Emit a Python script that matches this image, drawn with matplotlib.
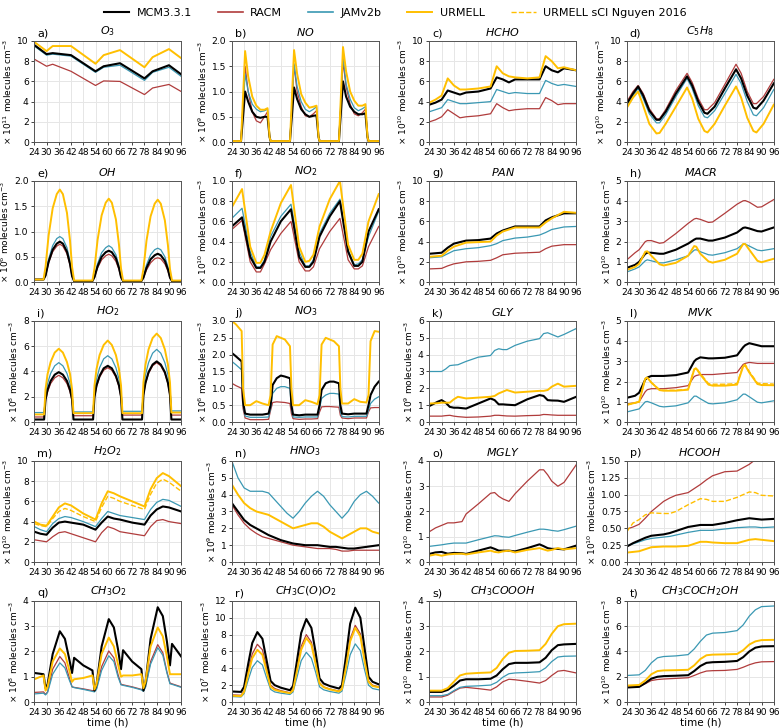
import matplotlib
matplotlib.use("Agg")
import matplotlib.pyplot as plt
from matplotlib.lines import Line2D

# ---------------- data ----------------
# a) O3 (1e11)
t_o3 = [24, 30, 33, 42, 54, 58, 66, 78, 82, 90, 96]
o3_mcm = [9.6, 8.7, 8.8, 8.6, 7.0, 7.5, 7.8, 6.3, 7.0, 7.6, 6.7]
o3_racm = [8.2, 7.5, 7.7, 7.0, 5.6, 6.05, 6.0, 4.7, 5.35, 5.7, 5.0]
o3_jam = [9.5, 8.6, 8.7, 8.5, 6.9, 7.4, 7.6, 6.1, 6.9, 7.4, 6.5]
o3_urm = [9.9, 9.0, 9.5, 9.5, 7.75, 8.6, 9.1, 7.4, 8.4, 9.2, 8.3]

# b) NO (1e9)
t_no = [24, 28.5, 30.5, 32, 34, 36, 38, 40, 41.5, 42.5, 43, 52.5, 54.5, 56, 58, 60, 62, 64, 65.5, 66.5, 67,
        76.5, 78.5, 80, 82, 84, 86, 88, 89.5, 90.5, 91, 96]
no_mcm = [0.02, 0.02, 1.0, 0.8, 0.6, 0.5, 0.48, 0.5, 0.5, 0.1, 0.02, 0.02, 1.08, 0.85, 0.65, 0.55, 0.5, 0.52, 0.53, 0.1, 0.02,
          0.02, 1.2, 0.9, 0.7, 0.6, 0.55, 0.55, 0.57, 0.1, 0.02, 0.02]
no_racm = [0.02, 0.02, 1.5, 1.0, 0.6, 0.42, 0.38, 0.5, 0.6, 0.1, 0.02, 0.02, 1.52, 1.0, 0.7, 0.52, 0.5, 0.56, 0.62, 0.1, 0.02,
           0.02, 1.6, 1.1, 0.75, 0.56, 0.52, 0.58, 0.65, 0.1, 0.02, 0.02]
no_jam = [0.02, 0.02, 1.35, 1.0, 0.75, 0.65, 0.6, 0.62, 0.65, 0.1, 0.02, 0.02, 1.55, 1.1, 0.8, 0.65, 0.6, 0.65, 0.7, 0.1, 0.02,
          0.02, 1.7, 1.15, 0.85, 0.68, 0.62, 0.66, 0.7, 0.1, 0.02, 0.02]
no_urm = [0.02, 0.02, 1.8, 1.3, 0.9, 0.72, 0.64, 0.64, 0.67, 0.1, 0.02, 0.02, 1.82, 1.35, 0.95, 0.78, 0.68, 0.7, 0.72, 0.1, 0.02,
          0.02, 1.88, 1.4, 1.0, 0.82, 0.72, 0.72, 0.75, 0.1, 0.02, 0.02]

# c) HCHO (1e10)
t_hcho = [24, 27, 30, 33, 36, 39, 42, 48, 54, 57, 60, 63, 66, 72, 78, 81, 84, 87, 90, 96]
hcho_mcm = [3.7, 3.9, 4.2, 5.1, 4.9, 4.7, 4.9, 5.0, 5.3, 6.4, 6.2, 5.9, 6.2, 6.2, 6.2, 7.5, 7.1, 6.9, 7.3, 7.1]
hcho_racm = [2.0, 2.2, 2.5, 3.2, 2.8, 2.4, 2.5, 2.6, 2.8, 3.8, 3.4, 3.1, 3.2, 3.3, 3.3, 4.4, 4.1, 3.7, 3.8, 3.8]
hcho_jam = [3.0, 3.2, 3.4, 4.2, 4.0, 3.8, 3.8, 3.9, 4.0, 5.2, 5.0, 4.8, 4.9, 4.8, 4.8, 6.1, 5.8, 5.6, 5.7, 5.5]
hcho_urm = [3.9, 4.2, 4.6, 6.3, 5.6, 5.2, 5.2, 5.3, 5.5, 7.5, 6.8, 6.5, 6.4, 6.3, 6.4, 8.5, 8.0, 7.3, 7.4, 7.1]

# d) C5H8 (1e10)
t_isop = [24, 27, 29.5, 32, 35, 38.5, 40, 43, 48, 53.5, 56, 59, 62, 63.5, 67, 72, 77.5, 80, 83, 86, 87.5, 91, 96]
isop_mcm = [3.8, 4.8, 5.5, 4.6, 3.1, 2.2, 2.2, 3.0, 4.8, 6.5, 5.6, 4.0, 2.9, 2.8, 3.5, 5.3, 7.2, 6.3, 4.6, 3.4, 3.3, 4.1, 5.8]
isop_racm = [4.0, 5.0, 5.6, 4.8, 3.3, 2.3, 2.3, 3.2, 5.1, 6.8, 5.9, 4.3, 3.2, 3.2, 3.9, 5.7, 7.7, 6.8, 5.0, 3.8, 3.8, 4.5, 6.2]
isop_jam = [3.6, 4.6, 5.3, 4.3, 2.8, 1.9, 1.9, 2.7, 4.5, 6.3, 5.3, 3.6, 2.5, 2.4, 3.1, 4.8, 6.7, 5.8, 4.0, 2.7, 2.6, 3.4, 5.2]
isop_urm = [3.4, 4.4, 5.0, 3.6, 1.8, 0.85, 0.9, 1.8, 3.5, 5.4, 4.3, 2.3, 1.1, 0.95, 1.8, 3.6, 5.5, 4.4, 2.4, 1.1, 0.95, 1.8, 3.7]

# e) OH (1e6)
t_oh = [24, 28.5, 29.5, 31, 33, 35, 36.5, 38, 40, 41.5, 42.5, 43.5,
        52.5, 53.5, 55, 57, 59, 60.5, 62, 64, 65.5, 66.5, 67.5,
        76.5, 77.5, 79, 81, 83, 84.5, 86, 88, 89.5, 90.5, 91.5, 96]
oh_mcm = [0.05, 0.05, 0.13, 0.4, 0.64, 0.76, 0.8, 0.76, 0.6, 0.36, 0.12, 0.02,
          0.02, 0.1, 0.31, 0.5, 0.59, 0.62, 0.59, 0.47, 0.28, 0.1, 0.02,
          0.02, 0.09, 0.28, 0.45, 0.53, 0.56, 0.53, 0.42, 0.25, 0.09, 0.02, 0.02]
oh_racm = [0.05, 0.05, 0.12, 0.38, 0.6, 0.71, 0.75, 0.71, 0.56, 0.34, 0.11, 0.02,
           0.02, 0.09, 0.28, 0.44, 0.52, 0.55, 0.52, 0.41, 0.25, 0.09, 0.02,
           0.02, 0.08, 0.24, 0.38, 0.46, 0.48, 0.46, 0.36, 0.22, 0.08, 0.02, 0.02]
oh_jam = [0.05, 0.05, 0.14, 0.45, 0.72, 0.86, 0.9, 0.86, 0.68, 0.41, 0.14, 0.02,
          0.02, 0.11, 0.36, 0.58, 0.68, 0.72, 0.68, 0.54, 0.32, 0.11, 0.02,
          0.02, 0.1, 0.34, 0.54, 0.64, 0.67, 0.64, 0.5, 0.3, 0.1, 0.02, 0.02]
oh_urm = [0.05, 0.05, 0.3, 0.92, 1.46, 1.74, 1.83, 1.74, 1.37, 0.82, 0.3, 0.03,
          0.03, 0.27, 0.83, 1.32, 1.57, 1.65, 1.57, 1.24, 0.74, 0.27, 0.03,
          0.03, 0.26, 0.82, 1.3, 1.55, 1.63, 1.55, 1.22, 0.73, 0.26, 0.03, 0.03]

# f) NO2 (1e10)
t_no2 = [24, 29, 33, 36, 38, 40, 43, 48, 53, 57, 60, 62, 64, 67, 72, 77, 81, 84, 86, 88, 91, 96]
no2_mcm = [0.55, 0.64, 0.25, 0.14, 0.14, 0.2, 0.4, 0.6, 0.72, 0.25, 0.15, 0.15, 0.2, 0.45, 0.65, 0.8, 0.3, 0.16, 0.16, 0.2, 0.5, 0.72]
no2_racm = [0.52, 0.61, 0.2, 0.1, 0.1, 0.18, 0.32, 0.48, 0.6, 0.2, 0.11, 0.11, 0.15, 0.33, 0.5, 0.63, 0.22, 0.13, 0.13, 0.16, 0.35, 0.55]
no2_jam = [0.63, 0.73, 0.3, 0.15, 0.15, 0.22, 0.45, 0.65, 0.77, 0.3, 0.16, 0.16, 0.22, 0.48, 0.68, 0.82, 0.32, 0.17, 0.18, 0.22, 0.45, 0.7]
no2_urm = [0.74, 0.92, 0.35, 0.19, 0.19, 0.27, 0.5, 0.78, 0.96, 0.35, 0.2, 0.21, 0.27, 0.55, 0.82, 1.0, 0.37, 0.22, 0.22, 0.28, 0.6, 0.87]

# g) PAN (1e10)
t_pan = [24, 30, 33, 36, 42, 48, 54, 57, 60, 66, 72, 78, 81, 84, 90, 96]
pan_mcm = [2.8, 2.9, 3.4, 3.8, 4.1, 4.15, 4.3, 4.8, 5.1, 5.5, 5.5, 5.5, 6.1, 6.4, 6.8, 6.8]
pan_racm = [1.3, 1.35, 1.6, 1.8, 2.0, 2.05, 2.15, 2.4, 2.7, 2.85, 2.9, 2.95, 3.3, 3.55, 3.7, 3.7]
pan_jam = [2.4, 2.5, 2.8, 3.1, 3.3, 3.4, 3.6, 3.8, 4.1, 4.35, 4.45, 4.65, 4.9, 5.2, 5.45, 5.5]
pan_urm = [2.5, 2.6, 3.1, 3.5, 3.9, 3.95, 4.0, 4.6, 5.0, 5.4, 5.4, 5.4, 5.9, 6.3, 6.95, 6.85]

# h) MACR (1e10)
t_macr = [24, 28, 30, 33, 34, 36, 40, 42, 48, 54, 57, 58, 60, 64, 66, 72, 78, 81, 82, 84, 88, 90, 96]
macr_mcm = [0.7, 0.85, 1.0, 1.4, 1.45, 1.45, 1.4, 1.4, 1.6, 1.9, 2.1, 2.15, 2.15, 2.05, 2.05, 2.2, 2.45, 2.68, 2.7, 2.65, 2.52, 2.5, 2.7]
macr_racm = [1.1, 1.45, 1.6, 2.0, 2.05, 2.05, 1.92, 1.95, 2.4, 2.9, 3.12, 3.15, 3.1, 2.95, 2.97, 3.4, 3.85, 4.02, 4.03, 3.95, 3.7, 3.72, 4.08]
macr_jam = [0.5, 0.65, 0.75, 1.05, 1.1, 1.05, 0.95, 0.95, 1.1, 1.3, 1.58, 1.6, 1.5, 1.35, 1.33, 1.45, 1.65, 1.88, 1.88, 1.78, 1.58, 1.55, 1.65]
macr_urm = [0.6, 0.75, 0.9, 1.5, 1.52, 1.3, 0.88, 0.82, 0.95, 1.3, 1.78, 1.75, 1.4, 1.02, 0.96, 1.1, 1.4, 1.88, 1.88, 1.6, 1.05, 0.98, 1.15]

# i) HO2 (1e8)
t_ho2 = [24, 28.8, 29.5, 30.5, 32, 34, 36, 38, 40, 41.5, 42.5, 43.2,
         52.8, 53.5, 54.5, 56, 58, 60, 62, 64, 65.5, 66.5, 67.2,
         76.8, 77.5, 78.5, 80, 82, 84, 86, 88, 89.5, 90.5, 91.2, 96]
ho2_mcm = [0.2, 0.2, 1.8, 2.55, 3.25, 3.75, 3.95, 3.75, 3.25, 2.55, 1.8, 0.2,
           0.2, 2.0, 2.9, 3.65, 4.25, 4.45, 4.25, 3.65, 2.9, 2.0, 0.2,
           0.2, 2.15, 3.1, 3.95, 4.55, 4.8, 4.55, 3.95, 3.1, 2.15, 0.2, 0.2]
ho2_racm = [0.4, 0.4, 1.7, 2.4, 3.05, 3.5, 3.7, 3.5, 3.05, 2.4, 1.7, 0.5,
            0.5, 1.95, 2.8, 3.55, 4.1, 4.3, 4.1, 3.55, 2.8, 1.95, 0.55,
            0.55, 2.1, 3.05, 3.85, 4.45, 4.7, 4.45, 3.85, 3.05, 2.1, 0.55, 0.55]
ho2_jam = [0.75, 0.75, 2.1, 3.05, 3.85, 4.45, 4.7, 4.45, 3.85, 3.05, 2.1, 0.8,
           0.8, 2.35, 3.4, 4.3, 5.0, 5.25, 5.0, 4.3, 3.4, 2.35, 0.85,
           0.85, 2.6, 3.75, 4.7, 5.45, 5.75, 5.45, 4.7, 3.75, 2.6, 0.88, 0.88]
ho2_urm = [0.6, 0.6, 2.6, 3.8, 4.75, 5.5, 5.8, 5.5, 4.75, 3.8, 2.6, 0.7,
           0.7, 2.9, 4.2, 5.3, 6.1, 6.45, 6.1, 5.3, 4.2, 2.9, 0.7,
           0.7, 3.15, 4.55, 5.75, 6.65, 7.0, 6.65, 5.75, 4.55, 3.15, 0.75, 0.75]

# j) NO3 (1e6)
t_no3 = [24, 26, 28.8, 29.5, 30.5, 33, 36, 39, 42, 43, 44, 46, 48, 50, 52.5, 53.2, 54, 57, 60, 63, 66, 67, 68, 70,
         72, 74, 76.5, 77.2, 78, 81, 84, 87, 90, 91, 92, 94, 96]
no3_mcm = [2.05, 1.95, 1.8, 0.6, 0.25, 0.22, 0.22, 0.22, 0.25, 0.5, 1.1, 1.3, 1.38, 1.35, 1.3, 0.5, 0.22, 0.2, 0.22,
           0.22, 0.22, 0.5, 0.95, 1.15, 1.2, 1.2, 1.15, 0.5, 0.25, 0.23, 0.25, 0.25, 0.25, 0.5, 0.8, 1.05, 1.2]
no3_racm = [1.15, 1.08, 1.0, 0.4, 0.12, 0.07, 0.07, 0.07, 0.08, 0.35, 0.58, 0.6, 0.59, 0.58, 0.55, 0.25, 0.1, 0.08, 0.09,
            0.09, 0.1, 0.3, 0.45, 0.46, 0.46, 0.45, 0.44, 0.2, 0.12, 0.1, 0.12, 0.12, 0.12, 0.3, 0.42, 0.43, 0.43]
no3_jam = [1.8, 1.7, 1.55, 0.5, 0.18, 0.14, 0.14, 0.14, 0.15, 0.4, 0.85, 1.0, 1.05, 1.05, 1.0, 0.4, 0.15, 0.14, 0.15,
           0.15, 0.15, 0.4, 0.7, 0.8, 0.85, 0.85, 0.83, 0.3, 0.16, 0.15, 0.17, 0.17, 0.17, 0.35, 0.55, 0.68, 0.75]
no3_urm = [3.0, 2.9, 2.7, 1.0, 0.5, 0.5, 0.62, 0.55, 0.5, 0.8, 2.3, 2.55, 2.5, 2.45, 2.25, 1.0, 0.5, 0.5, 0.65,
           0.6, 0.53, 0.8, 2.3, 2.5, 2.45, 2.4, 2.25, 1.0, 0.55, 0.55, 0.68, 0.6, 0.58, 0.8, 2.4, 2.7, 2.68]

# k) GLY (1e9)
t_gly = [24, 28, 30, 32, 34, 36, 38, 42, 48, 54, 56, 58, 60, 62, 66, 72, 78, 80, 82, 84, 87, 90, 96]
gly_mcm = [0.95, 1.2, 1.3, 1.15, 0.9, 0.85, 0.85, 0.8, 1.1, 1.4, 1.3, 1.05, 1.05, 1.03, 1.0, 1.35, 1.6, 1.55, 1.3, 1.28, 1.27, 1.2, 1.5]
gly_racm = [0.35, 0.35, 0.35, 0.38, 0.4, 0.35, 0.32, 0.28, 0.3, 0.35, 0.4, 0.4, 0.38, 0.36, 0.35, 0.38, 0.4, 0.45, 0.44, 0.42, 0.4, 0.4, 0.4]
gly_jam = [3.0, 3.0, 3.0, 3.15, 3.35, 3.38, 3.4, 3.6, 3.85, 3.95, 4.25, 4.35, 4.3, 4.3, 4.55, 4.8, 4.95, 5.25, 5.3, 5.2, 5.05, 5.2, 5.55]
gly_urm = [1.1, 1.12, 1.15, 1.15, 1.15, 1.35, 1.5, 1.4, 1.45, 1.5, 1.55, 1.7, 1.8, 1.9, 1.75, 1.8, 1.85, 1.85, 1.9, 2.1, 2.28, 2.1, 2.15]

# l) MVK (1e10)
t_mvk = [24, 28, 30, 33, 34, 36, 40, 42, 48, 54, 57, 58, 60, 64, 66, 72, 78, 81, 82, 84, 88, 90, 96]
mvk_mcm = [1.2, 1.3, 1.45, 2.1, 2.2, 2.28, 2.28, 2.28, 2.32, 2.45, 3.0, 3.1, 3.2, 3.15, 3.15, 3.18, 3.3, 3.7, 3.8, 3.9, 3.8, 3.75, 3.75]
mvk_racm = [0.9, 0.95, 1.0, 1.5, 1.6, 1.65, 1.65, 1.65, 1.7, 1.8, 2.25, 2.3, 2.35, 2.35, 2.35, 2.4, 2.45, 2.85, 2.9, 2.95, 2.9, 2.9, 2.9]
mvk_jam = [0.5, 0.6, 0.65, 1.0, 1.02, 0.95, 0.78, 0.75, 0.8, 0.95, 1.28, 1.28, 1.15, 0.92, 0.9, 0.95, 1.1, 1.38, 1.38, 1.25, 0.98, 0.95, 1.05]
mvk_urm = [0.85, 0.95, 1.0, 2.15, 2.2, 1.95, 1.58, 1.55, 1.55, 1.6, 2.6, 2.65, 2.35, 1.85, 1.8, 1.8, 1.85, 2.75, 2.8, 2.45, 1.88, 1.83, 1.82]
mvk_sci = [0.85, 0.95, 1.0, 2.15, 2.2, 1.95, 1.6, 1.57, 1.57, 1.62, 2.63, 2.68, 2.4, 1.9, 1.87, 1.87, 1.9, 2.8, 2.85, 2.5, 1.93, 1.9, 1.88]

# m) H2O2 (1e10)
t_h2o2 = [24, 27, 30, 33, 36, 39, 42, 48, 54, 57, 60, 63, 66, 72, 78, 81, 84, 87, 90, 96]
h2o2_mcm = [3.0, 2.8, 2.7, 3.4, 3.9, 4.0, 3.9, 3.7, 3.2, 3.9, 4.5, 4.3, 4.2, 3.9, 3.7, 4.6, 5.2, 5.5, 5.4, 5.0]
h2o2_racm = [2.2, 2.1, 2.0, 2.5, 2.9, 3.0, 2.8, 2.4, 2.0, 2.9, 3.5, 3.3, 3.0, 2.8, 2.6, 3.5, 4.1, 4.2, 4.0, 3.8]
h2o2_jam = [3.5, 3.2, 3.0, 3.8, 4.3, 4.5, 4.4, 4.0, 3.5, 4.3, 5.0, 4.8, 4.6, 4.4, 4.2, 5.2, 5.9, 6.2, 6.1, 5.5]
h2o2_urm = [4.0, 3.7, 3.6, 4.5, 5.4, 5.8, 5.6, 4.8, 4.2, 5.8, 7.0, 6.8, 6.5, 6.0, 5.5, 7.2, 8.3, 8.8, 8.5, 7.5]
h2o2_sci = [3.8, 3.6, 3.5, 4.3, 5.0, 5.3, 5.1, 4.5, 4.0, 5.4, 6.5, 6.3, 6.0, 5.6, 5.2, 6.7, 7.8, 8.2, 7.9, 7.0]

# n) HNO3 (1e9)
t_hno3 = [24, 27, 30, 33, 36, 39, 42, 45, 48, 51, 54, 57, 60, 63, 66, 69, 72, 75, 78, 81, 84, 87, 90, 93, 96]
hno3_mcm = [3.5, 3.0, 2.5, 2.2, 2.0, 1.8, 1.6, 1.45, 1.3, 1.2, 1.1, 1.05, 1.0, 1.0, 1.0, 0.95, 0.9, 0.9, 0.85, 0.8, 0.8, 0.85, 0.9, 0.95, 1.0]
hno3_racm = [3.4, 2.8, 2.3, 1.95, 1.7, 1.5, 1.4, 1.3, 1.2, 1.1, 1.0, 0.95, 0.9, 0.85, 0.8, 0.8, 0.8, 0.75, 0.65, 0.65, 0.7, 0.7, 0.7, 0.7, 0.7]
hno3_jam = [6.0, 5.0, 4.4, 4.2, 4.2, 4.2, 4.1, 3.7, 3.3, 2.9, 2.6, 3.0, 3.5, 3.9, 4.2, 3.9, 3.4, 3.0, 2.6, 3.0, 3.6, 4.0, 4.2, 3.9, 3.5]
hno3_urm = [4.6, 4.0, 3.5, 3.2, 3.0, 2.9, 2.8, 2.6, 2.4, 2.2, 2.0, 2.1, 2.2, 2.3, 2.3, 2.1, 1.8, 1.6, 1.4, 1.6, 1.8, 2.0, 2.0, 1.8, 1.7]

# o) MGLY (1e10)
t_mgly = [24, 27, 30, 33, 36, 40, 42, 48, 54, 56, 58, 60, 63, 66, 72, 78, 80, 82, 84, 87, 90, 96]
mgly_mcm = [0.32, 0.38, 0.4, 0.33, 0.36, 0.35, 0.32, 0.45, 0.58, 0.52, 0.45, 0.45, 0.45, 0.42, 0.55, 0.7, 0.63, 0.55, 0.52, 0.52, 0.5, 0.65]
mgly_racm = [1.2, 1.35, 1.45, 1.55, 1.55, 1.6, 1.9, 2.3, 2.72, 2.75, 2.6, 2.5, 2.4, 2.7, 3.2, 3.65, 3.65, 3.45, 3.2, 3.0, 3.15, 3.85]
mgly_jam = [0.62, 0.65, 0.68, 0.72, 0.75, 0.75, 0.75, 0.88, 1.0, 1.04, 1.03, 1.0, 0.98, 1.05, 1.18, 1.3, 1.3, 1.28, 1.25, 1.22, 1.28, 1.42]
mgly_urm = [0.25, 0.3, 0.25, 0.3, 0.32, 0.33, 0.3, 0.38, 0.45, 0.4, 0.38, 0.42, 0.45, 0.38, 0.48, 0.55, 0.5, 0.45, 0.48, 0.55, 0.5, 0.55]

# p) HCOOH (1e10)
t_hcooh = [24, 27, 30, 33, 36, 42, 45, 48, 54, 60, 63, 66, 72, 78, 84, 87, 90, 96]
hcooh_mcm = [0.23, 0.28, 0.32, 0.36, 0.39, 0.41, 0.43, 0.46, 0.52, 0.55, 0.55, 0.55, 0.58, 0.62, 0.65, 0.64, 0.63, 0.64]
hcooh_racm = [0.49, 0.52, 0.56, 0.65, 0.75, 0.9, 0.95, 0.99, 1.03, 1.15, 1.22, 1.28, 1.34, 1.35, 1.45, 1.52, 1.56, 1.62]
hcooh_jam = [0.24, 0.27, 0.3, 0.33, 0.35, 0.37, 0.38, 0.4, 0.44, 0.47, 0.47, 0.47, 0.49, 0.51, 0.52, 0.52, 0.51, 0.52]
hcooh_urm = [0.14, 0.15, 0.16, 0.19, 0.22, 0.23, 0.23, 0.23, 0.24, 0.3, 0.3, 0.29, 0.28, 0.28, 0.33, 0.34, 0.33, 0.31]
hcooh_sci = [0.45, 0.58, 0.63, 0.7, 0.73, 0.72, 0.72, 0.75, 0.85, 0.94, 0.93, 0.9, 0.9, 0.96, 1.04, 1.03, 0.99, 0.98]

# q) CH3O2 (1e8)
t_ch3o2 = [24, 28.5, 29.5, 30.5, 33, 36.5, 39, 41, 42.5, 43.5, 48, 52.5, 53.5, 54.5, 57, 60.5, 63, 65, 66.5, 67.5,
           72, 76.5, 77.5, 78.5, 81, 84.5, 87, 89, 90.5, 91.5, 96]
ch3o2_mcm = [1.15, 1.1, 0.55, 0.7, 1.9, 2.8, 2.5, 1.75, 1.15, 1.75, 1.45, 1.25, 0.45, 0.7, 2.2, 3.28, 2.95, 2.1, 1.3, 2.05,
             1.6, 1.3, 0.45, 0.75, 2.5, 3.75, 3.4, 2.4, 1.45, 2.3, 1.8]
ch3o2_racm = [0.38, 0.4, 0.3, 0.4, 1.3, 1.8, 1.55, 1.0, 0.6, 0.58, 0.52, 0.45, 0.45, 0.55, 1.4, 2.02, 1.75, 1.1, 0.7, 0.68,
              0.6, 0.5, 0.45, 0.6, 1.6, 2.27, 1.95, 1.2, 0.75, 0.72, 0.6]
ch3o2_jam = [0.32, 0.35, 0.28, 0.38, 1.1, 1.55, 1.35, 0.9, 0.6, 0.57, 0.5, 0.42, 0.4, 0.5, 1.25, 1.83, 1.6, 1.0, 0.68, 0.66,
             0.58, 0.48, 0.42, 0.58, 1.5, 2.15, 1.85, 1.15, 0.72, 0.7, 0.58]
ch3o2_urm = [0.9, 1.05, 0.45, 0.6, 1.6, 2.12, 1.9, 1.3, 0.8, 0.9, 0.95, 1.05, 0.5, 0.7, 1.9, 2.55, 2.2, 1.5, 1.0, 1.05,
             1.05, 1.1, 0.55, 0.8, 2.2, 2.95, 2.6, 1.8, 1.1, 1.1, 1.1]

# r) CH3C(O)O2 (1e7)
t_pa = [24, 28.5, 30, 32, 34, 36.5, 39, 41, 43, 45, 48, 52.5, 54, 56, 58, 60.5, 63, 65, 67, 69, 72, 76.5, 78, 80, 82,
        84.5, 87, 89, 91, 93, 96]
pa_mcm = [1.25, 1.2, 1.8, 4.5, 7.0, 8.3, 7.5, 5.0, 2.5, 2.0, 1.7, 1.4, 1.9, 5.0, 8.2, 9.85, 8.8, 6.0, 2.8, 2.2, 1.9, 1.6,
          2.0, 5.5, 9.3, 11.2, 10.0, 6.5, 3.0, 2.4, 2.1]
pa_racm = [0.85, 0.8, 1.3, 3.6, 5.7, 6.85, 6.2, 4.1, 2.0, 1.6, 1.35, 1.1, 1.5, 4.0, 6.6, 8.0, 7.1, 4.8, 2.3, 1.8, 1.55,
           1.3, 1.6, 4.4, 7.5, 9.1, 8.1, 5.2, 2.5, 2.0, 1.8]
pa_jam = [0.65, 0.6, 1.0, 2.6, 4.1, 4.9, 4.4, 2.9, 1.5, 1.2, 1.05, 0.9, 1.2, 3.0, 4.9, 5.9, 5.2, 3.6, 1.8, 1.45, 1.25,
          1.05, 1.3, 3.3, 5.6, 6.9, 6.1, 3.9, 2.0, 1.6, 1.45]
pa_urm = [0.75, 0.7, 1.2, 3.3, 5.2, 6.2, 5.6, 3.7, 1.8, 1.45, 1.25, 1.05, 1.4, 3.8, 6.2, 7.6, 6.8, 4.6, 2.2, 1.75, 1.5,
          1.25, 1.55, 4.2, 7.2, 8.8, 7.8, 5.0, 2.4, 1.9, 1.75]

# s) CH3COOOH (1e10)
t_paa = [24, 30, 33, 36, 39, 42, 48, 54, 57, 60, 63, 66, 72, 78, 81, 84, 87, 90, 96]
paa_mcm = [0.4, 0.4, 0.48, 0.65, 0.85, 0.9, 0.9, 0.92, 1.05, 1.3, 1.5, 1.55, 1.55, 1.57, 1.75, 2.05, 2.25, 2.28, 2.3]
paa_racm = [0.2, 0.2, 0.27, 0.42, 0.55, 0.58, 0.53, 0.47, 0.6, 0.8, 0.9, 0.88, 0.82, 0.75, 0.85, 1.05, 1.22, 1.25, 1.15]
paa_jam = [0.25, 0.25, 0.3, 0.45, 0.58, 0.62, 0.64, 0.67, 0.78, 0.98, 1.12, 1.15, 1.17, 1.2, 1.35, 1.6, 1.78, 1.81, 1.82]
paa_urm = [0.45, 0.45, 0.55, 0.8, 1.05, 1.12, 1.15, 1.17, 1.35, 1.7, 1.95, 2.02, 2.03, 2.05, 2.3, 2.7, 3.0, 3.08, 3.1]

# t) CH3COCH2OH (1e10)
t_hyac = [24, 30, 33, 36, 39, 42, 48, 54, 57, 60, 63, 66, 72, 78, 81, 84, 87, 90, 96]
hyac_mcm = [1.15, 1.2, 1.5, 1.85, 2.0, 2.05, 2.08, 2.12, 2.45, 2.85, 3.1, 3.15, 3.18, 3.25, 3.55, 4.0, 4.3, 4.4, 4.42]
hyac_racm = [1.2, 1.22, 1.45, 1.7, 1.78, 1.82, 1.87, 1.92, 2.1, 2.3, 2.45, 2.48, 2.5, 2.58, 2.75, 2.95, 3.1, 3.18, 3.2]
hyac_jam = [2.1, 2.15, 2.5, 3.1, 3.5, 3.6, 3.65, 3.75, 4.2, 4.8, 5.3, 5.45, 5.5, 5.65, 6.1, 6.8, 7.3, 7.55, 7.6]
hyac_urm = [1.3, 1.35, 1.7, 2.2, 2.45, 2.5, 2.52, 2.55, 2.9, 3.4, 3.7, 3.75, 3.77, 3.8, 4.1, 4.55, 4.8, 4.9, 4.92]

labels = ["MCM3.3.1", "RACM", "JAMv2b", "URMELL", "URMELL sCI Nguyen 2016"]
xticks = [24, 30, 36, 42, 48, 54, 60, 66, 72, 78, 84, 90, 96]

panels = [
    ("a)", r"$O_3$", 11, (0, 10), [0, 2, 4, 6, 8, 10], "%d", t_o3, o3_mcm, o3_racm, o3_jam, o3_urm, None),
    ("b)", r"$NO$", 9, (0, 2), [0, 0.5, 1.0, 1.5, 2.0], "%.1f", t_no, no_mcm, no_racm, no_jam, no_urm, None),
    ("c)", r"$HCHO$", 10, (0, 10), [0, 2, 4, 6, 8, 10], "%d", t_hcho, hcho_mcm, hcho_racm, hcho_jam, hcho_urm, None),
    ("d)", r"$C_5H_8$", 10, (0, 10), [0, 2, 4, 6, 8, 10], "%d", t_isop, isop_mcm, isop_racm, isop_jam, isop_urm, None),
    ("e)", r"$OH$", 6, (0, 2), [0, 0.5, 1.0, 1.5, 2.0], "%.1f", t_oh, oh_mcm, oh_racm, oh_jam, oh_urm, None),
    ("f)", r"$NO_2$", 10, (0, 1), [0, 0.2, 0.4, 0.6, 0.8, 1.0], "%.1f", t_no2, no2_mcm, no2_racm, no2_jam, no2_urm, None),
    ("g)", r"$PAN$", 10, (0, 10), [0, 2, 4, 6, 8, 10], "%d", t_pan, pan_mcm, pan_racm, pan_jam, pan_urm, None),
    ("h)", r"$MACR$", 10, (0, 5), [0, 1, 2, 3, 4, 5], "%d", t_macr, macr_mcm, macr_racm, macr_jam, macr_urm, None),
    ("i)", r"$HO_2$", 8, (0, 8), [0, 2, 4, 6, 8], "%d", t_ho2, ho2_mcm, ho2_racm, ho2_jam, ho2_urm, None),
    ("j)", r"$NO_3$", 6, (0, 3), [0, 0.5, 1.0, 1.5, 2.0, 2.5, 3.0], "%.1f", t_no3, no3_mcm, no3_racm, no3_jam, no3_urm, None),
    ("k)", r"$GLY$", 9, (0, 6), [0, 1, 2, 3, 4, 5, 6], "%d", t_gly, gly_mcm, gly_racm, gly_jam, gly_urm, None),
    ("l)", r"$MVK$", 10, (0, 5), [0, 1, 2, 3, 4, 5], "%d", t_mvk, mvk_mcm, mvk_racm, mvk_jam, mvk_urm, mvk_sci),
    ("m)", r"$H_2O_2$", 10, (0, 10), [0, 2, 4, 6, 8, 10], "%d", t_h2o2, h2o2_mcm, h2o2_racm, h2o2_jam, h2o2_urm, h2o2_sci),
    ("n)", r"$HNO_3$", 9, (0, 6), [0, 1, 2, 3, 4, 5, 6], "%d", t_hno3, hno3_mcm, hno3_racm, hno3_jam, hno3_urm, None),
    ("o)", r"$MGLY$", 10, (0, 4), [0, 1, 2, 3, 4], "%d", t_mgly, mgly_mcm, mgly_racm, mgly_jam, mgly_urm, None),
    ("p)", r"$HCOOH$", 10, (0, 1.5), [0, 0.25, 0.5, 0.75, 1.0, 1.25, 1.5], "%.2f", t_hcooh, hcooh_mcm, hcooh_racm, hcooh_jam, hcooh_urm, hcooh_sci),
    ("q)", r"$CH_3O_2$", 8, (0, 4), [0, 1, 2, 3, 4], "%d", t_ch3o2, ch3o2_mcm, ch3o2_racm, ch3o2_jam, ch3o2_urm, None),
    ("r)", r"$CH_3C(O)O_2$", 7, (0, 12), [0, 2, 4, 6, 8, 10, 12], "%d", t_pa, pa_mcm, pa_racm, pa_jam, pa_urm, None),
    ("s)", r"$CH_3COOOH$", 10, (0, 4), [0, 1, 2, 3, 4], "%d", t_paa, paa_mcm, paa_racm, paa_jam, paa_urm, None),
    ("t)", r"$CH_3COCH_2OH$", 10, (0, 8), [0, 2, 4, 6, 8], "%d", t_hyac, hyac_mcm, hyac_racm, hyac_jam, hyac_urm, None),
]

# ---------------- style ----------------
C_MCM = "black"
C_RACM = "#b03c3c"
C_JAM = "#3a98b3"
C_URM = "#ffbf00"
LW_MCM, LW_RACM, LW_JAM, LW_URM = 1.5, 0.9, 0.9, 1.4

fig = plt.figure(figsize=(7.8, 7.28), dpi=100)
gs = fig.add_gridspec(5, 4, left=0.044, right=0.992, top=0.9437, bottom=0.0357, wspace=0.345, hspace=0.385)

for idx, (lab, title, exp, ylim, yt, fmt, t, mcm, racm, jam, urm, sci) in enumerate(panels):
    r, c = divmod(idx, 4)
    ax = fig.add_subplot(gs[r, c])
    ax.plot(t, racm, color=C_RACM, lw=LW_RACM)
    ax.plot(t, jam, color=C_JAM, lw=LW_JAM)
    ax.plot(t, mcm, color=C_MCM, lw=LW_MCM)
    ax.plot(t, urm, color=C_URM, lw=LW_URM)
    if sci is not None:
        ax.plot(t, sci, color=C_URM, lw=1.0, ls="--")
    ax.set_xlim(24, 96)
    ax.set_ylim(*ylim)
    ax.set_xticks(xticks)
    ax.set_yticks(yt)
    ax.set_yticklabels([fmt % v for v in yt])
    ax.tick_params(labelsize=6.6, length=2.5, width=0.7, color="#444444", pad=1.5)
    ax.grid(True, color="#e6e6e6", lw=0.7)
    ax.set_axisbelow(True)
    for sp in ax.spines.values():
        sp.set_color("#555555")
        sp.set_linewidth(0.7)
    ax.set_ylabel(r"$\times$ 10$^{%d}$ molecules cm$^{-3}$" % exp, fontsize=6.5, labelpad=2)
    ax.text(0.02, 1.025, lab, transform=ax.transAxes, fontsize=8, ha="left", va="bottom")
    ax.text(0.5, 1.025, title, transform=ax.transAxes, fontsize=8, ha="center", va="bottom")
    if r == 4:
        ax.set_xlabel("time (h)", fontsize=7.5, labelpad=1)

handles = [Line2D([], [], color=C_MCM, lw=LW_MCM),
           Line2D([], [], color=C_RACM, lw=1.2),
           Line2D([], [], color=C_JAM, lw=1.2),
           Line2D([], [], color=C_URM, lw=LW_URM),
           Line2D([], [], color=C_URM, lw=1.0, ls="--")]
fig.legend(handles, labels, loc="center", bbox_to_anchor=(0.507, 0.982), ncol=5, frameon=False,
           fontsize=8, handlelength=2.25, columnspacing=2.3, handletextpad=0.7)

fig.savefig("out.png", dpi=100)
